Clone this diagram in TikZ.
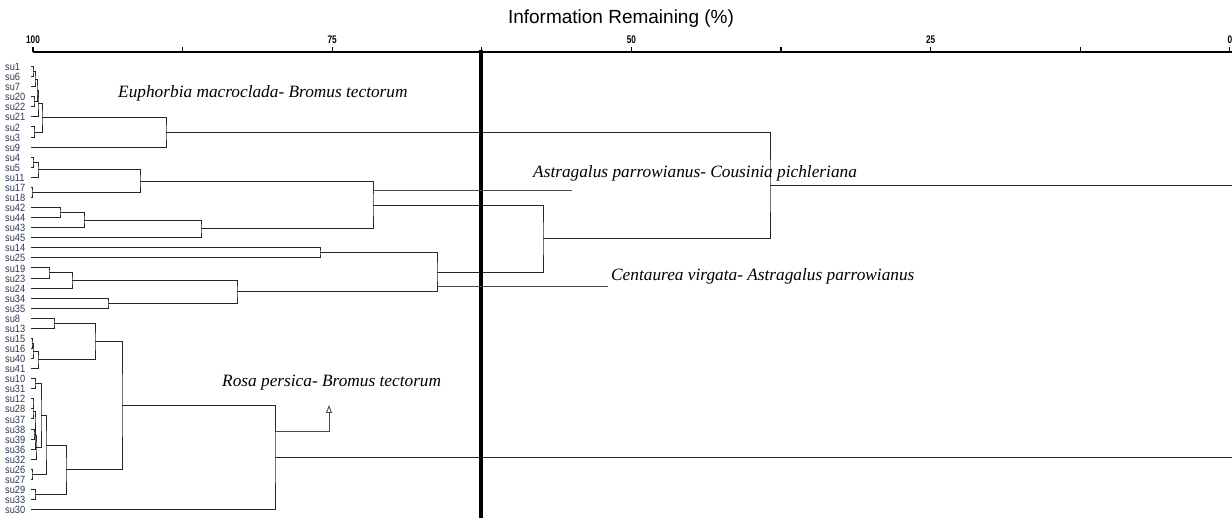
\documentclass[tikz,border=0pt]{standalone}
\usepackage{fontspec}
\setmainfont{Liberation Serif}
\setsansfont{Liberation Sans}
\usepackage{tikz}
\usetikzlibrary{calc, arrows.meta}
\definecolor{leafgray}{RGB}{45,55,80}
\tikzset{
  leaflabel/.style={anchor=west, inner sep=0pt, font=\sffamily\fontsize{10.5}{10}\selectfont, text=leafgray, xscale=0.88, transform shape},
  ticklabel/.style={inner sep=0pt, font=\sffamily\bfseries\fontsize{11}{11}\selectfont, xscale=0.75, transform shape},
  titlelabel/.style={inner sep=0pt, font=\sffamily\fontsize{19}{20}\selectfont},
  grouplabel/.style={anchor=west, inner sep=0pt, font=\itshape\fontsize{17.3}{18}\selectfont},
  branch/.style={draw=black!85, line width=0.9pt},
  pointer/.style={draw=black!70, line width=0.9pt},
  axisline/.style={line width=1.6pt},
  cutline/.style={line width=3.5pt}
}
% join two clusters at level #2 (px)
\newcommand{\clusterjoin}[4]{%
  \path let \p1=(#3), \p2=(#4) in coordinate (#1) at (#2pt,{0.5*\y1+0.5*\y2});
  \draw[branch] (#3) -| (#1) |- (#4);
}

\begin{document}
\begin{tikzpicture}[x=1pt, y=-1pt]
\useasboundingbox (0,0) rectangle (1232,518);

% Axis
\node[titlelabel] (title) at (621,19) {Information Remaining (\%)};
\draw[axisline] (33,52) -- (1232,52);
\foreach \v in {0,1,...,8}
  \draw[line width=1.2pt] ({33+\v*149.6},52) -- ({33+\v*149.6},47);
\foreach \v/\t in {0/100,2/75,4/50,6/25,8/0}
  \node[ticklabel] (tick\t) at ({33+\v*149.6},40) {\t};

% Leaves
\foreach \lab [count=\i] in {su1,su6,su7,su20,su22,su21,su2,su3,su9,su4,su5,su11,su17,su18,su42,su44,su43,su45,su14,su25,su19,su23,su24,su34,su35,su8,su13,su15,su16,su40,su41,su10,su31,su12,su28,su37,su38,su39,su36,su32,su26,su27,su29,su33,su30}{
  \node[leaflabel] (\lab) at (5,{67+(\i-1)*10.07}) {\lab};
  \coordinate (l-\lab) at (31,{66.5+(\i-1)*10.07});
}

% Euphorbia group
\clusterjoin{a1}{33}{l-su1}{l-su6}
\clusterjoin{a2}{35}{a1}{l-su7}
\clusterjoin{a3}{34}{l-su20}{l-su22}
\clusterjoin{a4}{37}{a2}{a3}
\clusterjoin{a5}{38}{a4}{l-su21}
\clusterjoin{a6}{34}{l-su2}{l-su3}
\clusterjoin{a7}{42}{a5}{a6}
\clusterjoin{a8}{166}{a7}{l-su9}

% Astragalus group
\clusterjoin{b1}{33}{l-su4}{l-su5}
\clusterjoin{b2}{38}{b1}{l-su11}
\clusterjoin{b3}{32}{l-su17}{l-su18}
\clusterjoin{b4}{140}{b2}{b3}
\clusterjoin{b5}{60}{l-su42}{l-su44}
\clusterjoin{b6}{84}{b5}{l-su43}
\clusterjoin{b7}{201}{b6}{l-su45}
\clusterjoin{b8}{373}{b4}{b7}

% Centaurea group
\clusterjoin{c1}{320}{l-su14}{l-su25}
\clusterjoin{c2}{49}{l-su19}{l-su23}
\clusterjoin{c3}{72}{c2}{l-su24}
\clusterjoin{c4}{108}{l-su34}{l-su35}
\clusterjoin{c5}{237}{c3}{c4}
\clusterjoin{c6}{437}{c1}{c5}
\clusterjoin{bc}{543}{b8}{c6}
\clusterjoin{top}{770}{a8}{bc}

% Rosa group
\clusterjoin{d1}{54}{l-su8}{l-su13}
\clusterjoin{d2}{32}{l-su15}{l-su16}
\clusterjoin{d3}{33}{d2}{l-su40}
\clusterjoin{d4}{38}{d3}{l-su41}
\clusterjoin{d5}{95}{d1}{d4}
\clusterjoin{d6}{35}{l-su10}{l-su31}
\clusterjoin{d7}{33}{l-su12}{l-su28}
\clusterjoin{d8}{33}{d7}{l-su37}
\clusterjoin{d9}{34}{l-su38}{l-su39}
\clusterjoin{d10}{35}{d8}{d9}
\clusterjoin{d11}{35}{d10}{l-su36}
\clusterjoin{d12}{36}{d11}{l-su32}
\clusterjoin{d13}{41}{d6}{d12}
\clusterjoin{d14}{32}{l-su26}{l-su27}
\clusterjoin{d15}{46}{d13}{d14}
\clusterjoin{d16}{35}{l-su29}{l-su33}
\clusterjoin{d17}{66}{d15}{d16}
\clusterjoin{d18}{122}{d5}{d17}
\clusterjoin{d19}{275}{d18}{l-su30}

% Roots
\coordinate (edge) at (1232,0);
\draw[branch] (top) -- (top -| edge);
\draw[branch] (d19) -- (d19 -| edge);

% Cut level
\draw[cutline] (481,50) -- (481,518);

% Group labels
\node[grouplabel] (euphorbia) at (118,93) {Euphorbia macroclada- Bromus tectorum};
\node[grouplabel] (astragalus) at (533,173) {Astragalus parrowianus- Cousinia pichleriana};
\node[grouplabel] (centaurea) at (611,276) {Centaurea virgata- Astragalus parrowianus};
\node[grouplabel] (rosa) at (222,383) {Rosa persica- Bromus tectorum};

% Pointers
\coordinate (astTip) at (572,190);
\draw[pointer] (astTip -| b8) -- (astTip);
\coordinate (cenTip) at (608,286);
\draw[pointer] (cenTip -| c6) -- (cenTip);
\coordinate (rosaCorner) at (329,431);
\coordinate (rosaTip) at (329,405);
\draw[pointer, -{Triangle[open, length=8pt, width=6pt]}] (rosaCorner -| d19) -- (rosaCorner) -- (rosaTip);

\end{tikzpicture}
\end{document}
